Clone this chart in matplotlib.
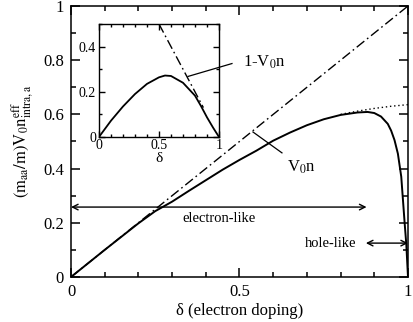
import matplotlib
matplotlib.use("Agg")
import matplotlib.pyplot as plt
from matplotlib.ticker import MultipleLocator

plt.rcParams['font.family'] = ['Liberation Serif', 'DejaVu Serif']
plt.rcParams['mathtext.fontset'] = 'stix'

# main panel data
delta = [0, 0.1, 0.2, 0.25, 0.3, 0.35, 0.4, 0.45, 0.5, 0.55, 0.6, 0.65, 0.7,
         0.75, 0.8, 0.85, 0.88, 0.9, 0.92, 0.94, 0.95, 0.96, 0.97, 0.98, 0.99, 0.995, 1.0]
v0n = [0, 0.1, 0.198, 0.243, 0.278, 0.318, 0.357, 0.396, 0.432, 0.466, 0.503, 0.533, 0.56,
       0.582, 0.598, 0.607, 0.609, 0.605, 0.592, 0.565, 0.54, 0.505, 0.455, 0.37, 0.2, 0.12, 0.0]
dot_delta = [0.8, 0.85, 0.9, 0.95, 1.0]
dot_vals = [0.600, 0.612, 0.622, 0.630, 0.636]
diag_x = [0, 1]
diag_y = [0, 1]
x_ticks = [0, 0.5, 1]
x_ticklabels = ['0', '0.5', '1']
y_ticks = [0, 0.2, 0.4, 0.6, 0.8, 1]
y_ticklabels = ['0', '0.2', '0.4', '0.6', '0.8', '1']

# inset data
in_delta = [0, 0.1, 0.2, 0.3, 0.4, 0.5, 0.55, 0.6, 0.7, 0.8, 0.85, 0.9, 0.95, 1.0]
in_vals = [0, 0.072, 0.135, 0.19, 0.235, 0.264, 0.272, 0.27, 0.24, 0.183, 0.137, 0.087, 0.042, 0]
in_line_x = [0.5, 0.87]
in_line_y = [0.5, 0.13]
in_yticks = [0, 0.2, 0.4]
in_yticklabels = ['0', '0.2', '0.4']

fig = plt.figure(figsize=(4.14, 3.22), dpi=100)
ax = fig.add_axes([0.1715, 0.1398, 0.814, 0.8416])

dashdot = (0, (7, 2.5, 1.2, 2.5))
ax.plot(diag_x, diag_y, color='black', lw=1.0, linestyle=dashdot)
ax.plot(dot_delta, dot_vals, color='black', lw=1.0, linestyle=(0, (1, 2)))
ax.plot(delta, v0n, color='black', lw=1.4)

ax.set_xlim(0, 1)
ax.set_ylim(0, 1)
ax.set_xticks(x_ticks, x_ticklabels)
ax.set_yticks(y_ticks, y_ticklabels)
ax.xaxis.set_minor_locator(MultipleLocator(0.1))
ax.yaxis.set_minor_locator(MultipleLocator(0.1))
ax.tick_params(which='both', direction='in', top=True, right=True, labelsize=12, width=1.1)
ax.tick_params(which='major', length=6.5, pad=5)
ax.tick_params(which='minor', length=3.5)
for s in ax.spines.values():
    s.set_linewidth(1.1)
ax.set_xlabel('δ (electron doping)', fontsize=12, labelpad=2)
ax.set_ylabel(r'$\mathrm{(m_{aa}/m)V_0n^{eff}_{intra,a}}$', fontsize=12, labelpad=5)

# arrows
ax.annotate('', xy=(0.0, 0.258), xytext=(0.877, 0.258),
            arrowprops=dict(arrowstyle='<->', lw=1.0, color='black', shrinkA=0, shrinkB=0))
ax.text(0.44, 0.214, 'electron-like', fontsize=10.5, ha='center', va='center')
ax.annotate('', xy=(0.875, 0.125), xytext=(1.0, 0.125),
            arrowprops=dict(arrowstyle='<->', lw=1.0, color='black', shrinkA=0, shrinkB=0))
ax.text(0.77, 0.125, 'hole-like', fontsize=10.5, ha='center', va='center')

# V0n label
ax.plot([0.54, 0.626], [0.535, 0.458], color='black', lw=0.9)
ax.text(0.641, 0.406, r'V$_0$n', fontsize=12, ha='left', va='center')
ax.text(0.51, 0.793, r'1-V$_0$n', fontsize=12, ha='left', va='center')

# inset
axi = fig.add_axes([0.239, 0.5745, 0.29, 0.351])
axi.plot(in_line_x, in_line_y, color='black', lw=1.0, linestyle=dashdot)
axi.plot(in_delta, in_vals, color='black', lw=1.3)
axi.set_xlim(0, 1)
axi.set_ylim(0, 0.5)
axi.set_xticks(x_ticks, x_ticklabels)
axi.set_yticks(in_yticks, in_yticklabels)
axi.xaxis.set_minor_locator(MultipleLocator(0.1))
axi.yaxis.set_minor_locator(MultipleLocator(0.1))
axi.tick_params(which='both', direction='in', top=True, right=True, labelsize=10, width=1.0)
axi.tick_params(axis='x', which='both', pad=1.5)
axi.tick_params(axis='y', which='both', pad=2)
axi.tick_params(which='major', length=4.5)
axi.tick_params(which='minor', length=2.5)
for s in axi.spines.values():
    s.set_linewidth(1.0)
axi.set_xlabel('δ', fontsize=11, labelpad=0)
# pointer from 1-V0n label to inset dash-dot line
axi.plot([0.742, 1.108], [0.268, 0.325], color='black', lw=0.9, clip_on=False)

fig.savefig('out.png', dpi=100)
